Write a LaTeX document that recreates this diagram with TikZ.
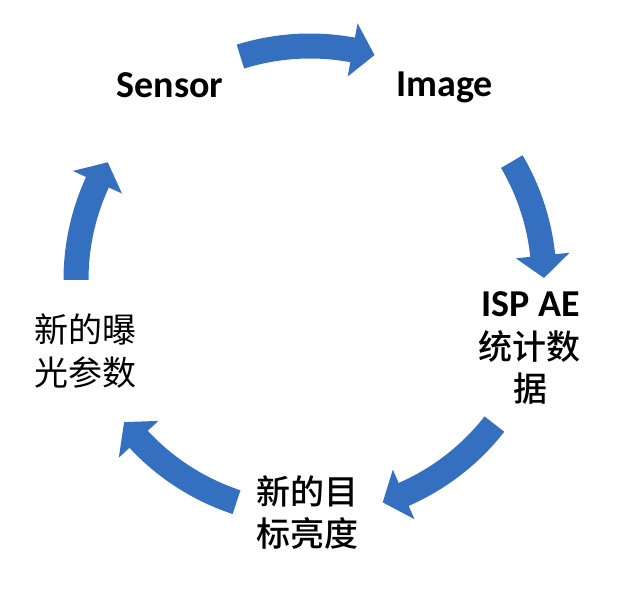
\documentclass[tikz,border=0pt]{standalone}
\usepackage{fontspec}
\setmainfont{Carlito}
\newfontfamily\cjk{Noto Sans CJK SC}
\newfontfamily\cjkmed{Noto Sans CJK SC Medium}
\definecolor{arrowblue}{HTML}{3570C0}
\newcommand\cycarrow[2]{%
  \pgfmathsetmacro\headang{#2+5.5}%
  \fill[arrowblue,shift={(310,312)}]
    (#1:246.5) arc[start angle=#1,end angle=\headang,radius=246.5]
    -- (\headang:261) -- (#2:234) -- (\headang:207)
    -- (\headang:221.5) arc[start angle=\headang,end angle=#1,radius=221.5]
    -- cycle;}
\begin{document}
\begin{tikzpicture}[x=1pt,y=1pt,
  lat/.style={anchor=base,inner sep=0pt,font=\bfseries\fontsize{38}{38}\selectfont},
  cjkb/.style={anchor=base,inner sep=0pt,font=\cjkmed\fontsize{34}{34}\selectfont},
  cjkr/.style={anchor=base,inner sep=0pt,font=\cjk\fontsize{34}{34}\selectfont}]
\useasboundingbox (0,0) rectangle (618,592);
\cycarrow{107.3}{74}
\cycarrow{30.4}{0.5}
\cycarrow{-38}{-71.9}
\cycarrow{-108.3}{-142.6}
\cycarrow{180}{149.8}
\node[lat] (sensor) at (170,494) {Sensor};
\node[lat] (image) at (444.5,495) {Image};
\node[lat] (isp1) at (531,275) {ISP AE};
\node[cjkb] (isp2) at (529,232) {统计数};
\node[cjkb] (isp3) at (530,190) {据};
\node[cjkb] (tgt1) at (307.5,88) {新的目};
\node[cjkb] (tgt2) at (307.5,46) {标亮度};
\node[cjkr] (exp1) at (85,249) {新的曝};
\node[cjkr] (exp2) at (85,206) {光参数};
\end{tikzpicture}
\end{document}
